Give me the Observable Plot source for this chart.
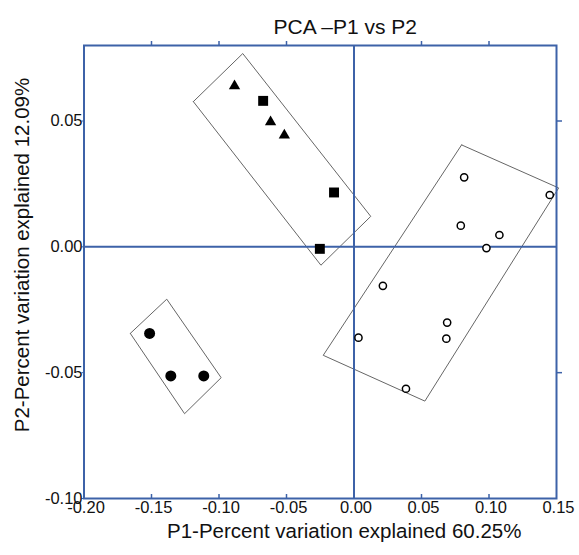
<!DOCTYPE html>
<html><head><meta charset="utf-8">
<script src="https://cdn.jsdelivr.net/npm/d3@7"></script>
<script src="https://cdn.jsdelivr.net/npm/@observablehq/plot@0.6"></script>
<style>body{margin:0;background:#fff}</style>
</head><body><div id="chart"></div>
<script>
const title = "PCA –P1 vs P2";
const xTitle = "P1-Percent variation explained 60.25%";
const yTitle = "P2-Percent variation explained 12.09%";
const xTicks = [-0.20, -0.15, -0.10, -0.05, 0.00, 0.05, 0.10, 0.15];
const yTicks = [-0.10, -0.05, 0.00, 0.05];
const innerXTicks = [-0.15, -0.10, -0.05, 0.05, 0.10];
const rightTicks = [-0.05, 0.05];

const filledP1 = [-0.1514, -0.1357, -0.1113];
const filledP2 = [-0.0344, -0.0513, -0.0513];
const triangleP1 = [-0.0885, -0.0618, -0.0516];
const triangleP2 = [0.0639, 0.0496, 0.0443];
const squareP1 = [-0.0673, -0.0148, -0.0253];
const squareP2 = [0.0580, 0.0216, -0.0008];
const openP1 = [0.0816, 0.1450, 0.0791, 0.1077, 0.0981, 0.0214, 0.0033, 0.0690, 0.0684, 0.0385];
const openP2 = [0.0276, 0.0206, 0.0084, 0.0047, -0.0005, -0.0155, -0.0361, -0.0301, -0.0365, -0.0564];

const boxUpper = [[-0.1190, 0.0577], [-0.0824, 0.0768], [0.0124, 0.0121], [-0.0245, -0.0073]];
const boxRight = [[0.0797, 0.0405], [0.1516, 0.0234], [0.0525, -0.0613], [-0.0228, -0.0431]];
const boxLeft = [[-0.1657, -0.0344], [-0.1387, -0.0208], [-0.0984, -0.0520], [-0.1255, -0.0663]];

const pts = (xs, ys) => xs.map((x, i) => ({x, y: ys[i]}));
const poly = (corners, g) => [...corners, corners[0]].map(([x, y]) => ({x, y, g}));
const boxes = [...poly(boxUpper, "a"), ...poly(boxRight, "b"), ...poly(boxLeft, "c")];

const blue = "#3d62a8";
const fmt = d => d.toFixed(2);

const chart = Plot.plot({
  width: 579, height: 555,
  marginLeft: 83.5, marginRight: 23, marginTop: 45, marginBottom: 57,
  style: {fontFamily: "'Liberation Sans', Arial, sans-serif", fontSize: "16px", background: "#fff", color: "#111"},
  x: {domain: [-0.2, 0.15], axis: null},
  y: {domain: [-0.1, 0.08], axis: null},
  marks: [
    Plot.line(boxes, {x: "x", y: "y", z: "g", stroke: "#666", strokeWidth: 1}),
    Plot.ruleX([0], {stroke: blue, strokeWidth: 2}),
    Plot.ruleY([0], {stroke: blue, strokeWidth: 2}),
    Plot.ruleX(innerXTicks, {stroke: blue, strokeWidth: 1.5, insetTop: 449}),
    Plot.axisX({anchor: "top", ticks: innerXTicks, tickSize: 5, stroke: blue, strokeWidth: 1.5, text: null, label: null}),
    Plot.axisY({anchor: "right", ticks: rightTicks, tickSize: 5, stroke: blue, strokeWidth: 1.5, text: null, label: null}),
    Plot.axisY({anchor: "left", ticks: yTicks, tickSize: 2, stroke: blue, text: null, label: null}),
    Plot.text(xTicks, {x: d => d, frameAnchor: "bottom", lineAnchor: "top", dy: 3, dx: 2, text: fmt, fontSize: 16.5, fill: "#111"}),
    Plot.text(yTicks, {y: d => d, frameAnchor: "left", textAnchor: "end", dx: -1.5, text: fmt, fontSize: 16.5, fill: "#111"}),
    Plot.frame({stroke: blue, strokeWidth: 2}),
    Plot.dot(pts(filledP1, filledP2), {x: "x", y: "y", r: 5.5, fill: "#000"}),
    Plot.dot(pts(triangleP1, triangleP2), {x: "x", y: "y", symbol: "triangle", r: 4.2, fill: "#000"}),
    Plot.dot(pts(squareP1, squareP2), {x: "x", y: "y", symbol: "square", r: 5.6, fill: "#000"}),
    Plot.dot(pts(openP1, openP2), {x: "x", y: "y", r: 3.6, fill: "#fff", stroke: "#000", strokeWidth: 1.5}),
    Plot.text([title], {frameAnchor: "top", dx: 25, dy: -26, fontSize: 21, fill: "#111"}),
    Plot.text([xTitle], {frameAnchor: "bottom", dx: 24, dy: 39, fontSize: 20.5, fill: "#111"}),
    Plot.text([yTitle], {frameAnchor: "left", textAnchor: "middle", dx: -61.5, dy: -17, rotate: -90, fontSize: 20.5, fill: "#111"})
  ]
});
document.getElementById("chart").appendChild(chart);
</script>
</body></html>
